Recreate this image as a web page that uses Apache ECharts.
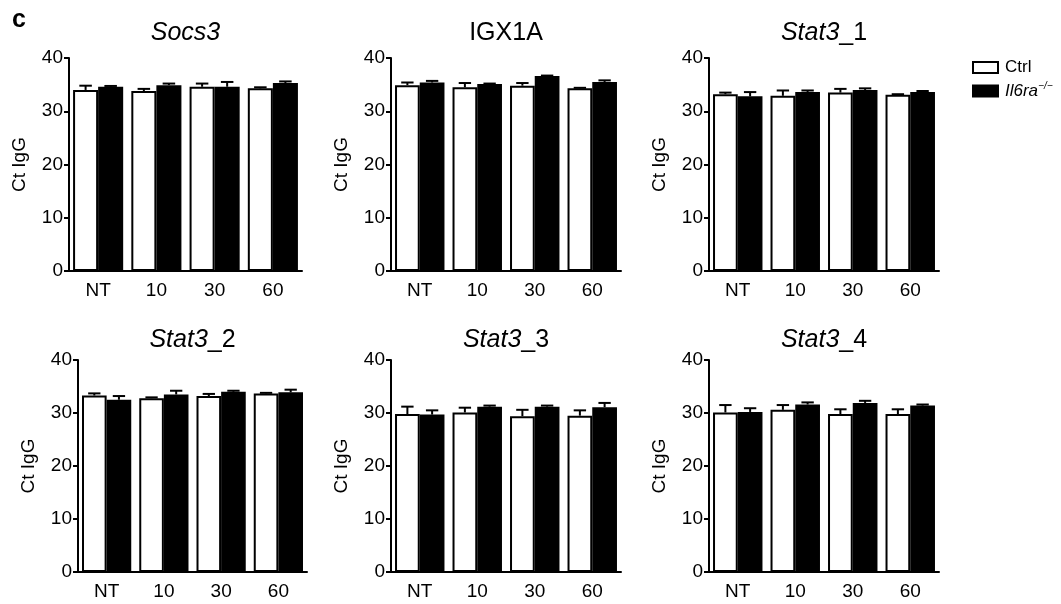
<!DOCTYPE html>
<html>
<head>
<meta charset="utf-8">
<script src="https://cdn.jsdelivr.net/npm/echarts@6/dist/echarts.min.js"></script>
<style>
html,body{margin:0;padding:0;background:#fff;}
#chart{width:1061px;height:604px;}
</style>
</head>
<body>
<div id="chart"></div>
<script>
// ---- data ----
const categories = ['NT', '10', '30', '60'];
const panelTitles = ['Socs3', 'IGX1A', 'Stat3_1', 'Stat3_2', 'Stat3_3', 'Stat3_4'];
const yTicks = [0, 10, 20, 30, 40];
const seriesNames = ['Ctrl', 'Il6ra−/−'];

const socs3Ctrl = [34.0, 33.8, 34.6, 34.3];
const socs3CtrlErr = [0.8, 0.4, 0.6, 0.2];
const socs3Ko = [34.6, 34.9, 34.6, 35.3];
const socs3KoErr = [0.15, 0.3, 0.9, 0.3];

const igx1aCtrl = [34.9, 34.5, 34.8, 34.3];
const igx1aCtrlErr = [0.5, 0.8, 0.5, 0.1];
const igx1aKo = [35.4, 35.1, 36.6, 35.5];
const igx1aKoErr = [0.3, 0.1, 0.1, 0.3];

const stat3_1Ctrl = [33.2, 32.9, 33.5, 33.1];
const stat3_1CtrlErr = [0.3, 1.0, 0.7, 0.1];
const stat3_1Ko = [32.8, 33.6, 34.0, 33.6];
const stat3_1KoErr = [0.8, 0.3, 0.3, 0.2];

const stat3_2Ctrl = [33.3, 32.8, 33.2, 33.7];
const stat3_2CtrlErr = [0.4, 0.15, 0.4, 0.1];
const stat3_2Ko = [32.5, 33.5, 34.0, 33.9];
const stat3_2KoErr = [0.7, 0.7, 0.2, 0.5];

const stat3_3Ctrl = [29.8, 30.1, 29.4, 29.5];
const stat3_3CtrlErr = [1.4, 0.9, 1.2, 1.0];
const stat3_3Ko = [29.7, 31.2, 31.2, 31.1];
const stat3_3KoErr = [0.8, 0.2, 0.2, 0.8];

const stat3_4Ctrl = [30.1, 30.6, 29.8, 29.8];
const stat3_4CtrlErr = [1.4, 0.9, 0.9, 0.9];
const stat3_4Ko = [30.2, 31.6, 31.9, 31.4];
const stat3_4KoErr = [0.7, 0.4, 0.4, 0.2];

const panelData = [
  [socs3Ctrl, socs3CtrlErr, socs3Ko, socs3KoErr],
  [igx1aCtrl, igx1aCtrlErr, igx1aKo, igx1aKoErr],
  [stat3_1Ctrl, stat3_1CtrlErr, stat3_1Ko, stat3_1KoErr],
  [stat3_2Ctrl, stat3_2CtrlErr, stat3_2Ko, stat3_2KoErr],
  [stat3_3Ctrl, stat3_3CtrlErr, stat3_3Ko, stat3_3KoErr],
  [stat3_4Ctrl, stat3_4CtrlErr, stat3_4Ko, stat3_4KoErr]
];

// ---- layout ----
const FONT = 'Liberation Sans, Arial, Helvetica, sans-serif';
const grids = [
  {left: 69, top: 58, width: 233, height: 213},
  {left: 391, top: 58, width: 230, height: 213},
  {left: 709, top: 58, width: 230, height: 213},
  {left: 78, top: 360, width: 229, height: 212},
  {left: 391, top: 360, width: 230, height: 212},
  {left: 709, top: 360, width: 230, height: 212}
];
const titleTops = [21, 21, 21, 328, 328, 328];
const CAT_GAP = 0.14;

function titleText(t) {
  if (t === 'IGX1A') return '{n|IGX1A}';
  const m = t.match(/^(Stat3)(_\d)$/);
  if (m) return '{i|' + m[1] + '}{n|' + m[2] + '}';
  return '{i|' + t + '}';
}

const option = {
  animation: false,
  backgroundColor: '#fff',
  textStyle: {fontFamily: FONT, color: '#000'},
  title: [],
  grid: [],
  xAxis: [],
  yAxis: [],
  series: [],
  legend: {
    orient: 'vertical',
    left: 967,
    top: 54,
    itemWidth: 25,
    itemHeight: 11,
    itemGap: 5,
    icon: 'rect',
    selectedMode: false,
    data: [
      {name: seriesNames[0], itemStyle: {color: '#fff', borderColor: '#000', borderWidth: 2}},
      {name: seriesNames[1], itemStyle: {color: '#000', borderColor: '#000', borderWidth: 2}}
    ],
    formatter: function (name) {
      if (name === seriesNames[0]) return '{n|Ctrl}';
      return '{i|Il6ra}{s|−/−}';
    },
    textStyle: {
      fontFamily: FONT, fontSize: 17, color: '#000', padding: [0, 0, 0, 2],
      rich: {
        n: {fontFamily: FONT, fontSize: 17, color: '#000', lineHeight: 20},
        i: {fontFamily: FONT, fontSize: 17, fontStyle: 'italic', color: '#000', lineHeight: 20},
        s: {fontFamily: FONT, fontSize: 10, fontStyle: 'italic', color: '#000', verticalAlign: 'top', lineHeight: 12}
      }
    }
  },
  graphic: [{
    type: 'text', left: 12, top: 8,
    style: {text: 'c', font: 'bold 25px ' + FONT, fill: '#000'}
  }]
};

panelTitles.forEach(function (t, p) {
  const g = grids[p];
  option.grid.push(g);
  option.title.push({
    text: titleText(t),
    left: g.left + g.width / 2,
    top: titleTops[p],
    textAlign: 'center',
    padding: 0,
    textStyle: {
      fontWeight: 'normal',
      rich: {
        i: {fontFamily: FONT, fontSize: 25, fontStyle: 'italic', fontWeight: 'normal', color: '#000'},
        n: {fontFamily: FONT, fontSize: 25, fontWeight: 'normal', color: '#000'}
      }
    }
  });
  option.xAxis.push({
    type: 'category',
    gridIndex: p,
    data: categories,
    axisLine: {lineStyle: {color: '#000', width: 2}},
    axisTick: {alignWithLabel: true, length: 6, lineStyle: {color: '#000', width: 2}},
    axisLabel: {color: '#000', fontSize: 19, fontFamily: FONT, margin: 10},
    splitLine: {show: false}
  });
  option.yAxis.push({
    type: 'value',
    gridIndex: p,
    min: yTicks[0],
    max: yTicks[yTicks.length - 1],
    interval: yTicks[1] - yTicks[0],
    name: 'Ct IgG',
    nameLocation: 'middle',
    nameGap: 40,
    nameTextStyle: {color: '#000', fontSize: 19, fontFamily: FONT},
    axisLine: {show: true, lineStyle: {color: '#000', width: 2}},
    axisTick: {show: true, length: 5, lineStyle: {color: '#000', width: 2}},
    axisLabel: {color: '#000', fontSize: 19, fontFamily: FONT, margin: 6},
    splitLine: {show: false}
  });
  const d = panelData[p];
  option.series.push({
    type: 'bar', name: seriesNames[0], xAxisIndex: p, yAxisIndex: p,
    data: d[0], barGap: '0%', barCategoryGap: (CAT_GAP * 100) + '%',
    itemStyle: {color: '#fff', borderColor: '#000', borderWidth: 2},
    emphasis: {disabled: true}, z: 2
  });
  option.series.push({
    type: 'bar', name: seriesNames[1], xAxisIndex: p, yAxisIndex: p,
    data: d[2], barGap: '0%', barCategoryGap: (CAT_GAP * 100) + '%',
    itemStyle: {color: '#000', borderColor: '#000', borderWidth: 2},
    emphasis: {disabled: true}, z: 2
  });
  [[d[0], d[1], -1], [d[2], d[3], 1]].forEach(function (s) {
    const means = s[0], errs = s[1], side = s[2];
    option.series.push({
      type: 'custom', name: 'err', xAxisIndex: p, yAxisIndex: p, z: 5,
      silent: true,
      data: categories.map(function (c, i) { return [i, means[i], errs[i]]; }),
      encode: {x: 0, y: 1},
      renderItem: function (params, api) {
        const ci = api.value(0), m = api.value(1), e = api.value(2);
        const base = api.coord([ci, m]);
        const top = api.coord([ci, m + e]);
        const band = api.size([1, 0])[0];
        const bw = band * (1 - CAT_GAP) / 2;
        const cx = base[0] + side * bw / 2;
        const cap = bw * 0.5;
        return {
          type: 'group',
          children: [
            {type: 'line', shape: {x1: cx, y1: base[1], x2: cx, y2: top[1]}, style: {stroke: '#000', lineWidth: 2}},
            {type: 'line', shape: {x1: cx - cap / 2, y1: top[1], x2: cx + cap / 2, y2: top[1]}, style: {stroke: '#000', lineWidth: 2}}
          ]
        };
      }
    });
  });
});

const chart = echarts.init(document.getElementById('chart'), null, {renderer: 'canvas'});
chart.setOption(option);
</script>
</body>
</html>
